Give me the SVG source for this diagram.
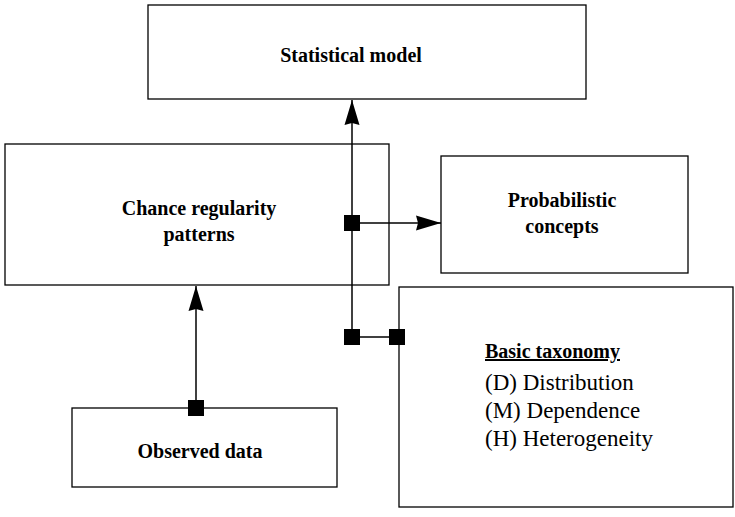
<svg xmlns="http://www.w3.org/2000/svg" width="735" height="517" viewBox="0 0 735 517">
<style>
.box{fill:#fff;stroke:#000;stroke-width:1.3}
.b{font-family:"Liberation Serif","Times New Roman",serif;font-weight:bold;font-size:20px;text-anchor:middle;fill:#000}
.r{font-family:"Liberation Serif","Times New Roman",serif;font-size:23px;fill:#000}
.ln{stroke:#000;stroke-width:1.5;fill:none}
.sq{fill:#000}
</style>
<defs>
<marker id="arr" markerWidth="25" markerHeight="16" refX="25" refY="8" orient="auto" markerUnits="userSpaceOnUse" overflow="visible">
<path d="M0,0.5 L25,8 L0,15.5 L2,8 Z" fill="#000"/>
</marker>
</defs>
<rect width="735" height="517" fill="#fff"/>
<g id="statistical-model">
<rect class="box" x="148" y="5" width="438" height="94"/>
<text class="b" x="351" y="62">Statistical model</text>
</g>
<g id="chance-regularity">
<rect class="box" x="5" y="144" width="384" height="141"/>
<text class="b" x="199" y="215">Chance regularity</text>
<text class="b" x="199" y="241">patterns</text>
</g>
<g id="probabilistic-concepts">
<rect class="box" x="441" y="156" width="247" height="117"/>
<text class="b" x="562" y="207">Probabilistic</text>
<text class="b" x="562" y="233">concepts</text>
</g>
<g id="basic-taxonomy">
<rect class="box" x="399" y="287" width="334" height="220"/>
<text class="b" x="485" y="358" style="text-anchor:start;text-decoration:underline">Basic taxonomy</text>
<text class="r" x="485" y="390">(D) Distribution</text>
<text class="r" x="485" y="418">(M) Dependence</text>
<text class="r" x="485" y="446">(H) Heterogeneity</text>
</g>
<g id="observed-data">
<rect class="box" x="72" y="408" width="265" height="79"/>
<text class="b" x="200" y="458">Observed data</text>
</g>
<g id="connectors">
<line class="ln" x1="352" y1="337" x2="352" y2="100" marker-end="url(#arr)"/>
<line class="ln" x1="352" y1="223" x2="441" y2="223" marker-end="url(#arr)"/>
<line class="ln" x1="352" y1="337" x2="397" y2="337"/>
<line class="ln" x1="196" y1="408" x2="196" y2="286" marker-end="url(#arr)"/>
<rect class="sq" x="344" y="215" width="16" height="16"/>
<rect class="sq" x="344" y="329" width="16" height="16"/>
<rect class="sq" x="389" y="329" width="16" height="16"/>
<rect class="sq" x="188" y="400" width="16" height="16"/>
</g>
</svg>
